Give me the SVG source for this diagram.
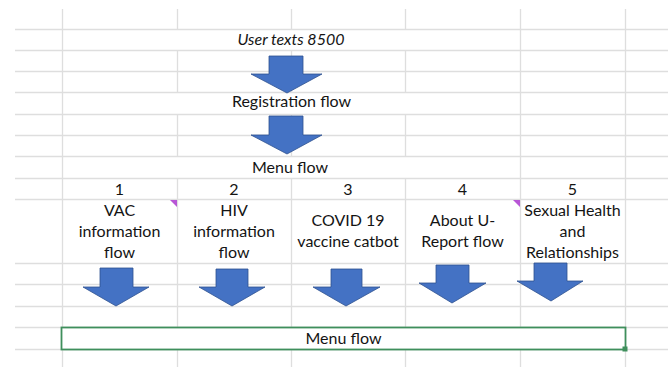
<svg xmlns="http://www.w3.org/2000/svg" width="668" height="367" viewBox="0 0 668 367">
<defs>
<style>
.g{stroke:#dedede;stroke-width:1.3;fill:none}
.t{font-family:Lato,"Liberation Sans",sans-serif;font-size:16px;fill:#141414;text-anchor:middle}
.i{font-style:italic}
.arr{fill:#4472c4;stroke:#2f528f;stroke-width:0.8}
.cm{fill:#b856d6}
</style>
</defs>
<rect width="668" height="367" fill="#fff"/>
<g id="grid">
<path class="g" d="M15 29.5H668M15 71.5H668M15 135.5H668M15 199.5H668M15 263.5H668M15 284.5H668M15 306.5H668M15 327.5H668M15 349.5H668"/>
<path class="g" d="M15 50.5H62M520 50.5H668M15 92.5H62M520 92.5H668M15 114.5H62M520 114.5H668M15 156.5H62M520 156.5H668M15 178.5H62M520 178.5H668"/>
<path class="g" d="M62 50.5H520M62 92.5H520M62 114.5H520M62 156.5H520M62 178.5H520"/>
<path class="g" d="M62.5 9V367M625.5 9V367"/>
<path class="g" d="M177.5 9V29M177.5 50V93M177.5 114V157M177.5 178V327M177.5 349V367"/>
<path class="g" d="M291.5 9V29M291.5 50V93M291.5 114V157M291.5 178V327M291.5 349V367"/>
<path class="g" d="M405.5 9V29M405.5 50V93M405.5 114V157M405.5 178V327M405.5 349V367"/>
<path class="g" d="M520.5 9V367"/>
</g>
<g id="comments">
<polygon class="cm" points="170,200 177,200 177,207"/>
<polygon class="cm" points="513,200 520,200 520,207"/>
</g>
<g id="n-user"><text class="t i" x="291" y="45">User texts 8500</text></g>
<g id="n-registration"><text class="t" x="291.5" y="107">Registration flow</text></g>
<g id="n-menu"><text class="t" x="290" y="173">Menu flow</text></g>
<g id="n-1">
<text class="t" x="119.5" y="195">1</text>
<text class="t" x="119.5" y="216">VAC</text>
<text class="t" x="119.5" y="237">information</text>
<text class="t" x="119.5" y="258">flow</text>
</g>
<g id="n-2">
<text class="t" x="234" y="195">2</text>
<text class="t" x="234" y="216">HIV</text>
<text class="t" x="234" y="237">information</text>
<text class="t" x="234" y="258">flow</text>
</g>
<g id="n-3">
<text class="t" x="348" y="195">3</text>
<text class="t" x="348" y="226">COVID 19</text>
<text class="t" x="348" y="247">vaccine catbot</text>
</g>
<g id="n-4">
<text class="t" x="462.5" y="195">4</text>
<text class="t" x="462.5" y="226">About U-</text>
<text class="t" x="462.5" y="247">Report flow</text>
</g>
<g id="n-5">
<text class="t" x="572.5" y="195">5</text>
<text class="t" x="572.5" y="216">Sexual Health</text>
<text class="t" x="572.5" y="237">and</text>
<text class="t" x="572.5" y="258">Relationships</text>
</g>
<g id="n-menu-bottom">
<rect x="61.5" y="327.5" width="564" height="22" fill="#fff" stroke="#3f8f5c" stroke-width="1.8"/>
<rect x="622.5" y="346.5" width="5" height="5" fill="#3f8f5c"/>
<text class="t" x="343.5" y="344">Menu flow</text>
</g>
<g id="connectors">
<polygon class="arr" points="269,56 303,56 303,74 322,74 287,93 251,74 269,74"/>
<polygon class="arr" points="269,116 303,116 303,135 322,135 287,154 251,135 269,135"/>
<polygon class="arr" points="100,268 133,268 133,287 149,287 116,306 83,287 100,287"/>
<polygon class="arr" points="216,269 248,269 248,287 265,287 232,306 199,287 216,287"/>
<polygon class="arr" points="331,269 362,269 362,287 380,287 346,306 313,287 331,287"/>
<polygon class="arr" points="436,265 469,265 469,283 486,283 452,303 419,283 436,283"/>
<polygon class="arr" points="534,263 567,263 567,281 583,281 551,301 517,281 534,281"/>
</g>
</svg>
